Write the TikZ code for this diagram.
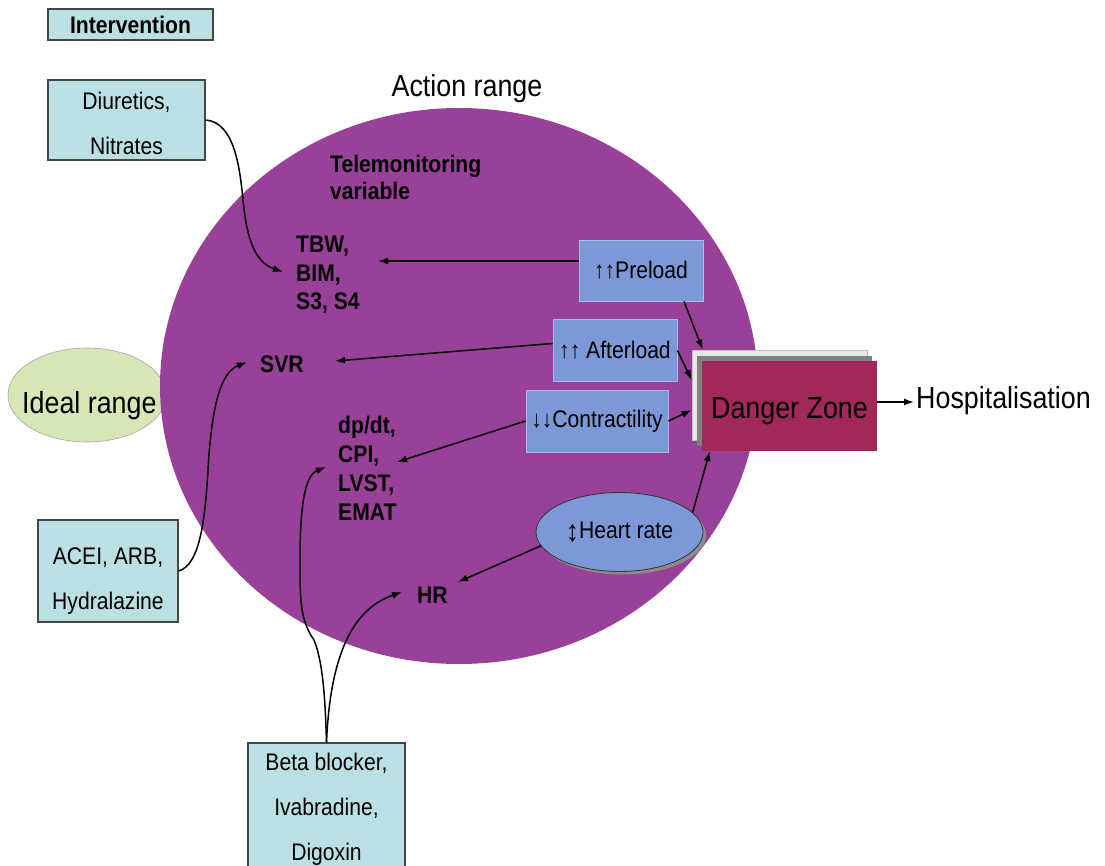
\documentclass[tikz,border=0pt]{standalone}
\usepackage{fontspec}
\setmainfont{Liberation Sans}[FakeStretch=0.88]
\usetikzlibrary{arrows.meta,shapes.geometric,shadows}

\definecolor{cyanbox}{RGB}{186,224,228}
\definecolor{boxedge}{RGB}{70,70,70}
\definecolor{bluebox}{RGB}{125,152,215}
\definecolor{blueedge}{RGB}{168,188,235}
\definecolor{purplezone}{RGB}{153,64,153}
\definecolor{idealgreen}{RGB}{214,230,181}
\definecolor{maroon}{RGB}{162,40,90}

\begin{document}
\begin{tikzpicture}[x=1pt,y=-1pt,
  drugbox/.style={draw=boxedge, fill=cyanbox, line width=1.1pt, inner sep=0pt, align=center,
    font=\fontsize{24}{45}\selectfont},
  lever/.style={draw=blueedge, fill=bluebox, line width=0.8pt, inner sep=0pt,
    font=\fontsize{24}{28}\selectfont},
  varlabel/.style={inner sep=0pt, anchor=base west, align=left},
  bigtext/.style={font=\fontsize{30.5}{36}\selectfont},
  page/.style={minimum width=175pt, minimum height=90pt, inner sep=0pt},
  arr/.style={line width=1.5pt, -{Latex[length=10pt,width=7pt]}},
]
\useasboundingbox (0,0) rectangle (1105,866);

% ideal range behind the action range
\node[ellipse, fill=idealgreen, draw=black!35, line width=0.6pt,
  minimum width=158pt, minimum height=94pt, inner sep=0pt] (ideal) at (87,395) {};
\node[ellipse, fill=purplezone, minimum width=598pt, minimum height=556pt,
  inner sep=0pt] (zone) at (459,386) {};
\node[bigtext, inner sep=0pt, anchor=base west] (idealtxt) at (22,413) {Ideal range};
\node[bigtext, inner sep=0pt, anchor=base] (action) at (467,97) {Action range};

% interventions (multi-line boxes sit on the baseline of their last line)
\node[drugbox, font=\bfseries\fontsize{24}{28}\selectfont,
  minimum width=165pt, minimum height=31pt] (interv) at (130.5,24.5) {Intervention};
\node[drugbox, minimum width=157pt, minimum height=80pt,
  text height=70pt, text depth=0pt] (diur) at (126.5,120) {Diuretics,\\Nitrates};
\node[drugbox, minimum width=140pt, minimum height=102pt,
  text height=80pt, text depth=4pt] (acei) at (108,571) {ACEI, ARB,\\Hydralazine};
\node[drugbox, minimum width=157pt, minimum height=127pt,
  text height=110pt, text depth=3pt] (beta) at (326.5,806.5) {Beta blocker,\\Ivabradine,\\Digoxin};

% telemonitoring variables (positioned by the baseline of the last line)
\node[varlabel, font=\bfseries\fontsize{24}{27}\selectfont] (tele) at (330,200) {Telemonitoring\\variable};
\node[varlabel, font=\bfseries\fontsize{24}{28.5}\selectfont] (tbw) at (296,310) {TBW,\\BIM,\\S3, S4};
\node[varlabel, font=\bfseries\fontsize{24}{28}\selectfont] (svr) at (260,372) {SVR};
\node[varlabel, font=\bfseries\fontsize{24}{29}\selectfont] (dp) at (338,520) {dp/dt,\\CPI,\\LVST,\\EMAT};
\node[varlabel, font=\bfseries\fontsize{24}{28}\selectfont] (hr) at (417,603) {HR};

% mechanisms
\node[lever, minimum width=124pt, minimum height=61pt] (preload) at (641,270.5) {↑↑Preload};
\node[lever, minimum width=124pt, minimum height=62pt] (afterload) at (615,350.5) {↑↑ Afterload};
\node[lever, minimum width=142pt, minimum height=62pt] (contract) at (597,421) {↓↓Contractility};
\node[ellipse, fill=bluebox, draw=black!80, line width=0.8pt, inner sep=0pt,
  minimum width=167pt, minimum height=79pt, font=\fontsize{24}{28}\selectfont,
  drop shadow={shadow xshift=3pt, shadow yshift=-3pt, fill=black!45, opacity=1}]
  (heart) at (619.5,532) {\raisebox{-3pt}{\fontsize{30}{30}\selectfont↕}Heart rate};

% danger zone as a stack of pages
\node[page, fill=black!9, draw=black!25, line width=0.6pt] (dzback) at (779.5,395) {};
\node[page, fill=black!50] (dzmid) at (784.5,401) {};
\node[page, fill=maroon, bigtext, text height=28pt, text depth=4pt] (danger) at (789.5,406) {Danger Zone};
\node[bigtext, anchor=base west, inner sep=2pt] (hosp) at (914,408) {Hospitalisation};

% arrow end points beside the variable labels
\coordinate (tbw-r) at (378,261);
\coordinate (tbw-l) at (283,272);
\coordinate (svr-r) at (335,361);
\coordinate (svr-l) at (247,362);
\coordinate (dp-r) at (397,462);
\coordinate (dp-l) at (326,467);
\coordinate (hr-r) at (458,582);
\coordinate (hr-l) at (402,592);

% mechanism arrows
\draw[arr] ([yshift=9.5pt]preload.west) -- (tbw-r);
\draw[arr] ([xshift=43pt]preload.south) -- ([xshift=11pt]dzback.north west);
\draw[arr] ([yshift=7pt]afterload.west) -- (svr-r);
\draw[arr] (afterload.east) -- ([yshift=15pt]dzback.west);
\draw[arr] (contract.west) -- (dp-r);
\draw[arr] (contract.east) -- ([yshift=-15pt]dzback.west);
\draw[arr] (heart.190) -- (hr-r);
\draw[arr] (heart.15) -- ([xshift=8pt]danger.south west);
\coordinate (dzout) at ([yshift=4pt]danger.east);
\draw[arr] (dzout) -- (hosp.west |- dzout);

% intervention arrows
\draw[arr] (diur.east) .. controls (235,122) and (240,170) .. (243,200)
  .. controls (247,240) and (255,262) .. (tbw-l);
\draw[arr] (acei.east) .. controls (200,565) and (205,520) .. (208,470)
  .. controls (212,400) and (222,372) .. (svr-l);
\draw[arr] (beta.north) .. controls (325,690) and (322,660) .. (314,640)
  .. controls (300,620) and (300,600) .. (300,560)
  .. controls (300,500) and (306,475) .. (dp-l);
\draw[arr] (beta.north) .. controls (330,660) and (350,610) .. (hr-l);
\end{tikzpicture}
\end{document}
